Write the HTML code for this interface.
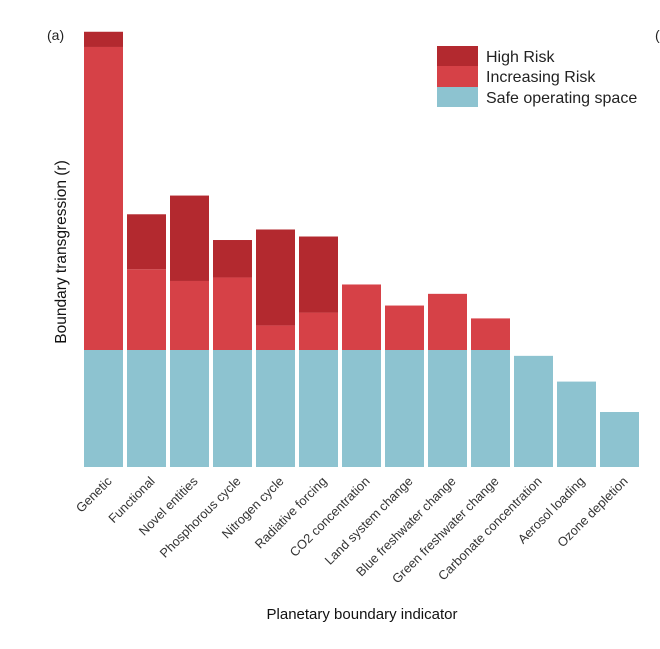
<!DOCTYPE html>
<html><head><meta charset="utf-8"><style>
body{margin:0;background:#fff;width:660px;height:644px;overflow:hidden;font-family:"Liberation Sans",sans-serif}
</style></head><body>
<svg id="chart" width="660" height="644" xmlns="http://www.w3.org/2000/svg" font-family="Liberation Sans, sans-serif">
<text x="47" y="40" font-size="14" fill="#222">(a)</text>
<text x="655" y="40" font-size="14" fill="#222">(</text>
<text transform="translate(66,252) rotate(-90)" text-anchor="middle" font-size="15.5" fill="#111">Boundary transgression (r)</text>
<text x="362" y="619" text-anchor="middle" font-size="15" fill="#111">Planetary boundary indicator</text>
<g id="bars"></g><g id="ticks"></g>
<g>
<rect x="437" y="46" width="41" height="20" fill="#b3292f"/>
<text x="486" y="62" font-size="16" fill="#222">High Risk</text>
<rect x="437" y="66" width="41" height="21" fill="#d64147"/>
<text x="486" y="82" font-size="16" fill="#222">Increasing Risk</text>
<rect x="437" y="87" width="41" height="20" fill="#8dc3d0"/>
<text x="486" y="103" font-size="16" fill="#222">Safe operating space</text>
</g>
</svg>
<script>
const categories=["Genetic","Functional","Novel entities","Phosphorous cycle","Nitrogen cycle","Radiative forcing","CO2 concentration","Land system change","Blue freshwater change","Green freshwater change","Carbonate concentration","Aerosol loading","Ozone depletion"];
const safeValues=[1,1,1,1,1,1,1,1,1,1,0.95,0.73,0.47];
const increasingTop=[3.59,1.69,1.59,1.62,1.21,1.32,1.56,1.38,1.48,1.27,0,0,0];
const highTop=[3.72,2.16,2.32,1.94,2.03,1.97,0,0,0,0,0,0,0];
const ns="http://www.w3.org/2000/svg";
const x0=84,step=43.0,bw=39,base=467,ppu=117;
const xs=i=>x0+i*step;
const ys=v=>base-v*ppu;
const bars=document.getElementById('bars'),ticks=document.getElementById('ticks');
function rect(x,y1,y2,fill,name){const r=document.createElementNS(ns,'rect');r.setAttribute('x',x);r.setAttribute('y',y2);r.setAttribute('width',bw);r.setAttribute('height',Math.max(0,y1-y2));r.setAttribute('fill',fill);


bars.appendChild(r);}
categories.forEach((c,i)=>{
 const x=xs(i);
 rect(x,ys(0),ys(safeValues[i]),'#8dc3d0','bar-safe-'+i);
 if(increasingTop[i]>safeValues[i]) rect(x,ys(safeValues[i]),ys(increasingTop[i]),'#d64147','bar-increasing-'+i);
 if(highTop[i]>increasingTop[i]) rect(x,ys(increasingTop[i]),ys(highTop[i]),'#b3292f','bar-high-'+i);
 const t=document.createElementNS(ns,'text');
 const cx=x+bw/2+9,cy=base+15;
 t.setAttribute('transform','translate('+cx+','+cy+') rotate(-45)');
 t.setAttribute('text-anchor','end');t.setAttribute('font-size','12.8');t.setAttribute('fill','#333');
 t.textContent=c;
 
 
 ticks.appendChild(t);
});
</script>
</body></html>
